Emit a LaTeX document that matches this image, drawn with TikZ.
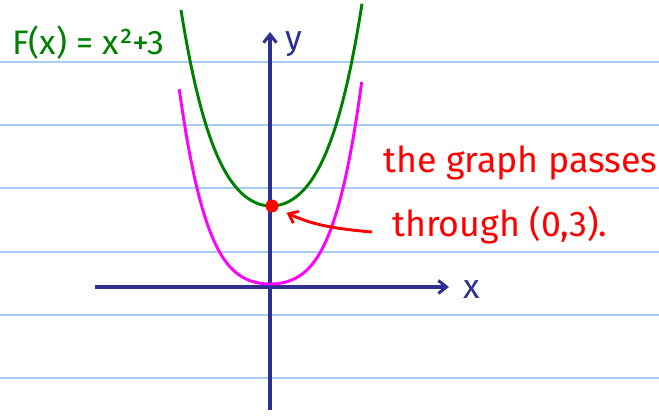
\documentclass[tikz,border=0pt]{standalone}
\usepackage{fontspec}
\setmainfont{Fira Sans}
\usetikzlibrary{arrows.meta}
\definecolor{axisblue}{RGB}{46,49,146}
\definecolor{ruleblue}{RGB}{168,205,245}
\definecolor{curvegreen}{RGB}{0,128,0}
\definecolor{curvepink}{RGB}{255,0,255}

\begin{document}
\begin{tikzpicture}[x=0.3mm,y=-0.3mm,every node/.style={inner sep=0pt,font=\fontsize{29}{31}\selectfont},
		rule/.style={ruleblue,line width=1.6pt},
		axis/.style={axisblue,line width=2.6pt,->},
		curve/.style={line width=2.5pt,smooth,samples=90},
		reddot/.style={circle,fill=red,minimum size=11pt},
		note/.style={red,anchor=base west,font=\fontsize{30.5}{32}\selectfont},
		> = {Straight Barb[length=7pt,width=11pt]}]
				\useasboundingbox (0,0) rectangle (659,416);
				\foreach \y in {61.7,125,188.3,251.6,314.9,378.2}
					\draw[rule] (0,\y) -- (659,\y);
				\coordinate (xl) at (95,287);
				\coordinate (xr) at (449,287);
				\coordinate (yb) at (270,410);
				\coordinate (yt) at (270,32);
				\draw[axis] (xl) -- (xr);
				\draw[axis] (yb) -- (yt);
				\draw[curve,curvepink] plot[domain=-90.7:91.7] ({270+\x},{284-0.0076*\x*\x-0.01953*(\x/10)^4});
				\draw[curve,curvegreen] plot[domain=-90:91] ({271+\x},{206-0.01369*\x*\x-0.01297*(\x/10)^4});
				\node[reddot] (pt) at (272,206) {};
				\coordinate (tail) at (372,232);
				\draw[->,red,line width=2.5pt,shorten >=8pt] (tail) to[out=175,in=-25] (pt);
				\node[curvegreen,anchor=base west] (flbl) at (12,55) {F(x) = x²+3};
				\node[axisblue,anchor=base west] (ylbl) at (285,50) {y};
				\node[axisblue,anchor=base west] (xlbl) at (463,298) {x};
				\node[note] (line1) at (383,172) {the graph passes};
				\node[note] (line2) at (392,237) {through (0,3).};

			\end{tikzpicture}
\end{document}
